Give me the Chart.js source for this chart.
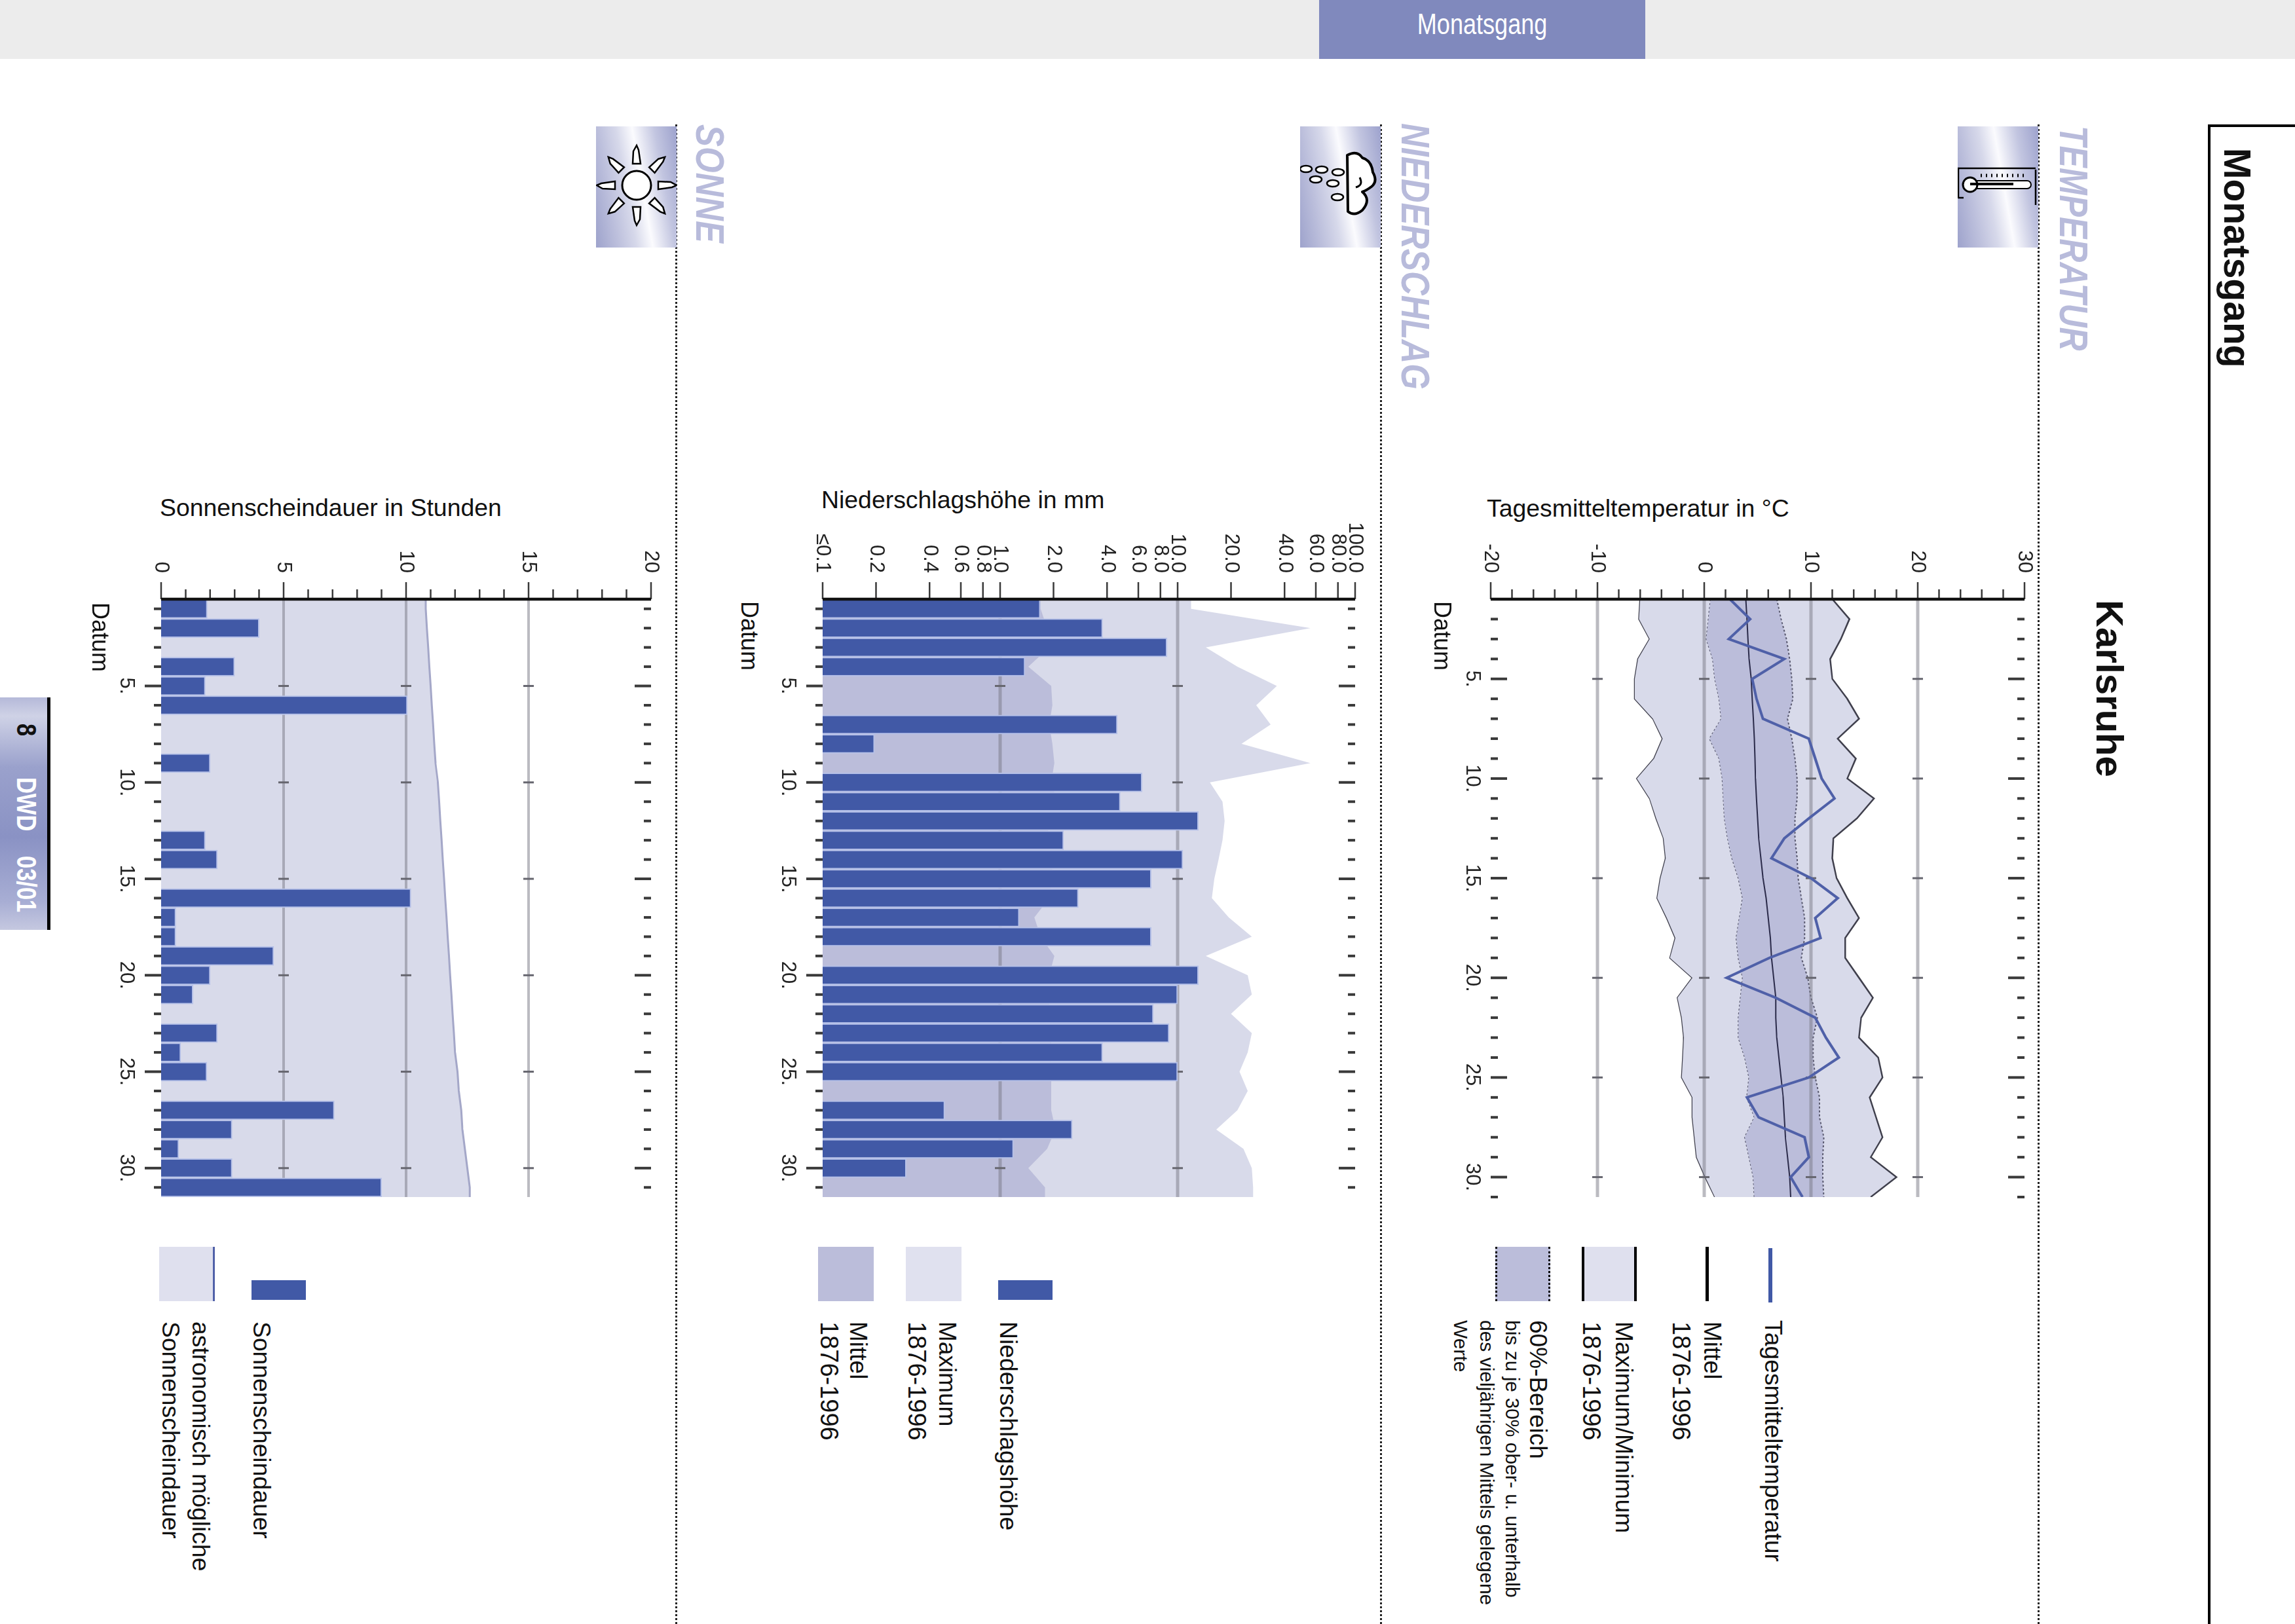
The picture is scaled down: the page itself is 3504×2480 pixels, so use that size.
<!DOCTYPE html>
<html lang="de">
<head>
<meta charset="utf-8">
<title>Monatsgang Karlsruhe</title>
<script src="https://cdn.jsdelivr.net/npm/chart.js@4.4.0/dist/chart.umd.min.js"></script>
<style>
  html, body { margin: 0; padding: 0; background: #fff; }
  body { position: relative; width: 3504px; height: 2480px; overflow: hidden; font-family: "Liberation Sans", Arial, sans-serif; color: #111; }
  /* top bar and chart titles stay upright, everything else sits on the page turned by 90deg */
  #topbar { position: absolute; left: 0; top: 0; width: 3504px; height: 90px; background: #ececec; }
  #tab { position: absolute; left: 2014px; top: 0; width: 498px; height: 90px; background: #8089bd; color: #fff; text-align: center; font-size: 44px; line-height: 74px; }
  #tab span { display: inline-block; transform: scaleX(.82); }
  .title { position: absolute; font-size: 37.4px; line-height: 1; white-space: nowrap; }
  #page { position: absolute; left: 0; top: 0; width: 2480px; height: 3504px; transform-origin: 0 0; transform: translateX(3504px) rotate(90deg); }
  #page canvas { position: absolute; }
  .t { position: absolute; white-space: nowrap; line-height: 1; }
  .head { font-weight: bold; font-style: italic; color: #b8bbdb; transform: scaleX(.82); transform-origin: 0 50%; }
  .foot { font-weight: bold; transform: scaleX(.82); transform-origin: 0 50%; color: #fff; }
  .sep { position: absolute; left: 190px; width: 2290px; border-top: 3px dotted #222; }
  .icon { position: absolute; left: 193px; width: 185px; height: 123px;
          background: linear-gradient(170deg, #9da2cd 0%, #c2c5e0 22%, #fbfbfe 44%, #d6d8ea 60%, #bcbfdc 78%, #9ea3cc 100%); }
  .icon svg { display: block; }
  .sw { position: absolute; left: 1904px; width: 83px; }
  #footer { position: absolute; left: 1065px; top: 3432px; width: 355px; height: 72px; border-top: 5px solid #000; margin-top: -5px;
            background: linear-gradient(90deg, #b5b9d9, #cfd2e6 8%, #9aa1cc 30%, #8a92c4 60%, #a8aed4 88%, #c5c8e0); }
</style>
</head>
<body>
<div id="topbar"></div>
<div id="tab"><span>Monatsgang</span></div>
<div class="title" style="left:2270px;top:758px">Tagesmitteltemperatur in °C</div>
<div class="title" style="left:1254px;top:745px">Niederschlagshöhe in mm</div>
<div class="title" style="left:244px;top:757px">Sonnenscheindauer in Stunden</div>

<div id="page">
  <div style="position:absolute;left:190px;top:0;width:2290px;height:129px;border-left:4px solid #000;border-bottom:4px solid #000"></div>
  <div class="sep" style="top:390px"></div>
  <div class="sep" style="top:1394px"></div>
  <div class="sep" style="top:2470px"></div>

  <div class="icon" style="top:392px">
    <svg width="185" height="123" viewBox="0 0 185 123">
      <path d="M64 4V122H68M68 122H110M109 122V114M66 4H120" fill="none" stroke="#000" stroke-width="2.5"/>
      <rect x="83" y="11" width="12" height="90" rx="6" fill="#fff" stroke="#000" stroke-width="2"/>
      <circle cx="89" cy="104" r="11" fill="#fff" stroke="#000" stroke-width="3"/>
      <path d="M88 38V104" stroke="#000" stroke-width="4"/>
      <path d="M75 22v2M75 30v2M75 38v2M75 46v2M75 54v2M75 62v2M75 70v2M75 78v2M75 86v2" stroke="#000" stroke-width="5"/>
    </svg>
  </div>
  <div class="icon" style="top:1396px">
    <svg width="185" height="123" viewBox="0 0 185 123">
      <path d="M44 51Q36 36 48 28Q52 14 70 12Q84 4 92 14Q98 22 100 28Q112 14 128 28Q138 40 130 50Z" fill="#fff" stroke="#000" stroke-width="4" stroke-linejoin="round"/>
      <path d="M78 32Q90 26 93 38" fill="none" stroke="#000" stroke-width="3"/>
      <g fill="#fff" stroke="#000" stroke-width="2.5">
        <ellipse cx="65" cy="114" rx="5" ry="9"/><ellipse cx="66" cy="90" rx="5" ry="9"/><ellipse cx="70" cy="65" rx="5" ry="9"/>
        <ellipse cx="81" cy="99" rx="5" ry="9"/><ellipse cx="87" cy="73" rx="5" ry="9"/><ellipse cx="108" cy="66" rx="5" ry="9"/>
      </g>
    </svg>
  </div>
  <div class="icon" style="top:2471px">
    <svg width="185" height="123" viewBox="0 0 185 123">
      <defs><path id="ray" d="M84 31L96 31L93 10L90 3L85 12Z" fill="#fff" stroke="#000" stroke-width="2.5"/></defs>
      <g transform="translate(0 -3)">
        <use href="#ray"/><use href="#ray" transform="rotate(45 90 64)"/><use href="#ray" transform="rotate(90 90 64)"/><use href="#ray" transform="rotate(135 90 64)"/>
        <use href="#ray" transform="rotate(180 90 64)"/><use href="#ray" transform="rotate(225 90 64)"/><use href="#ray" transform="rotate(270 90 64)"/><use href="#ray" transform="rotate(315 90 64)"/>
        <circle cx="90" cy="64" r="22" fill="#fff" stroke="#000" stroke-width="3"/>
      </g>
    </svg>
  </div>

  <canvas id="tempChart" width="1083" height="915" style="left:775px;top:373px"></canvas>
  <canvas id="rainChart" width="1083" height="928" style="left:775px;top:1395px"></canvas>
  <canvas id="sunChart" width="1083" height="863" style="left:775px;top:2470px"></canvas>

  <!-- Legende Temperatur -->
  <div class="sw" style="top:798px;left:1906px;height:6px;background:#4159a6"></div>
  <div class="sw" style="top:895px;height:5px;background:#000"></div>
  <div class="sw" style="top:1005px;height:84px;background:#dfe0ee;border-top:4px solid #000;border-bottom:4px solid #000;box-sizing:border-box"></div>
  <div class="sw" style="top:1137px;height:84px;background:#bbbdda;border-top:3px dotted #000;border-bottom:3px dotted #000;box-sizing:border-box"></div>
  <!-- Legende Niederschlag -->
  <div class="sw" style="top:1897px;left:1955px;width:30px;height:83px;background:#4159a6"></div>
  <div class="sw" style="top:2036px;height:85px;background:#e0e1ef"></div>
  <div class="sw" style="top:2170px;height:85px;background:#bbbdda"></div>
  <!-- Legende Sonne -->
  <div class="sw" style="top:3037px;left:1955px;width:30px;height:83px;background:#4159a6"></div>
  <div class="sw" style="top:3176px;height:85px;background:#dfe0ee;border-top:3px solid #5060a8;box-sizing:border-box"></div>

  <div id="footer"></div>
</div>

<script>
// ------------------------------------------------------------ Daten
const days = [1,2,3,4,5,6,7,8,9,10,11,12,13,14,15,16,17,18,19,20,21,22,23,24,25,26,27,28,29,30,31];
const dayLabels = [5,10,15,20,25,30];

// Temperatur in °C
const tempTicks = [-20,-10,0,10,20,30];
const tempMinorTicks = [-18,-16,-14,-12,-8,-6,-4,-2,2,4,6,8,12,14,16,18,22,24,26,28];
const tempGrid = [-10,0,10,20];
const tempDay = [2.4,4.3,2.3,7.5,4.5,4.9,5.5,9.8,10.4,11.0,12.2,9.8,7.5,6.3,10.0,12.5,10.4,10.9,6.1,2.1,6.7,10.4,11.4,12.6,9.8,4.0,5.1,9.4,9.8,8.1,9.2];
const tempMean = [3.9,4.0,4.1,4.2,4.4,4.5,4.6,4.7,4.75,4.8,4.9,5.0,5.1,5.3,5.5,5.8,6.0,6.2,6.3,6.5,6.7,6.7,6.8,7.0,7.2,7.4,7.5,7.6,7.8,8.0,8.1];
const tempMax = [12.0,13.6,12.8,11.8,12.0,13.4,14.5,12.5,14.2,13.4,15.9,14.3,12.1,12.0,12.4,13.4,14.5,13.2,13.2,14.5,15.8,14.7,14.5,16.3,16.7,15.5,16.1,16.7,15.6,18.0,15.6];
const tempMin = [-6.0,-6.1,-5.1,-6.2,-6.5,-6.5,-4.8,-3.9,-4.7,-6.3,-5.1,-4.5,-3.8,-3.6,-4.1,-4.4,-3.5,-2.7,-3.2,-1.1,-2.5,-2.1,-1.9,-2.0,-2.1,-1.1,-1.1,-0.9,-0.7,0.1,1.0];
const tempUpper60 = [6.8,7.2,7.7,8.0,8.2,8.3,7.8,8.2,8.5,8.7,8.7,8.5,8.5,8.7,8.8,9.1,9.4,9.4,9.1,9.7,10.0,10.6,10.2,10.2,10.4,10.8,10.8,11.2,11.1,11.1,11.2];
const tempLower60 = [0.6,0.4,0.2,0.8,1.0,1.4,1.6,0.5,1.4,1.7,1.8,1.9,2.2,2.6,3.2,3.6,3.3,3.0,3.2,3.6,3.4,3.2,3.2,3.8,4.2,4.0,4.7,3.8,4.2,4.6,4.7];

// Niederschlag in mm (log. Achse)
const rainTicks = [0.1,0.2,0.4,0.6,0.8,1,2,4,6,8,10,20,40,60,80,100];
const rainGrid = [1,10];
const rainDay = [1.68,3.78,8.7,1.38,null,null,4.57,0.196,null,6.3,4.75,13.1,2.28,10.7,7.1,2.76,1.28,7.1,null,13.1,10,7.3,8.95,3.78,10,null,0.487,2.55,1.19,0.296,null];
const rainMean = [1.69,1.84,1.89,1.44,1.94,1.97,1.89,1.97,2.02,1.94,2.1,1.94,1.79,2.0,1.94,1.89,1.56,1.69,2.02,1.89,1.89,1.89,1.94,1.94,1.94,1.94,1.94,2.05,1.84,1.44,1.79];
const rainMax = [11.9,56,14.4,21.7,36.2,27.7,33.4,22.9,56,15.2,17.9,18.4,17.9,17.0,16.1,15.6,19.4,26.2,14.4,24.8,26.2,20.0,26.2,24.8,22.3,24.8,21.7,16.5,23.5,26.2,26.6];

// Sonne in Stunden
const sunTicks = [0,5,10,15,20];
const sunMinorTicks = [1,2,3,4,6,7,8,9,11,12,13,14,16,17,18,19];
const sunGrid = [5,10,15];
const sunDay = [1.88,4.0,null,3.0,1.8,10.05,null,null,2.0,null,null,null,1.8,2.3,null,10.2,0.6,0.6,4.6,2.0,1.3,null,2.3,0.8,1.87,null,7.07,2.9,0.72,2.9,9.0];
const sunAstro = [10.8,10.85,10.9,10.95,11.0,11.05,11.1,11.15,11.2,11.3,11.35,11.4,11.45,11.5,11.55,11.6,11.65,11.7,11.75,11.8,11.85,11.9,11.95,12.0,12.1,12.15,12.25,12.3,12.4,12.5,12.6];

// ------------------------------------------------------------ Farben
const BLUE = '#4159a6';
const BAR_EDGE = '#b6c1e8';
const BAND_LIGHT = '#d8daea';
const BAND_DARK = '#bbbdda';

Chart.defaults.font.family = '"Liberation Sans", Arial, sans-serif';
Chart.defaults.color = '#222';
Chart.defaults.animation = false;

const points = vals => days.map((d, i) => ({ x: d, y: vals[i] }));
// Flaechen laufen bis an den Rand des letzten Tages
const withEnds = vals => [{ x: 0.5, y: vals[0] }, ...points(vals), { x: 31.5, y: vals[30] }];

// Achsenstriche und Gitter: Chart.js kennt nur eine Strichlaenge je Achse
function marks({ minor = [], major, grid, gridBefore, gridWidth = 5, outside }) {
  return {
    id: 'marks',
    beforeDatasetDraw(chart, args) {
      if (args.index !== gridBefore) return;
      const { ctx, chartArea: a, scales: { x, y } } = chart;
      ctx.save();
      ctx.strokeStyle = 'rgba(120,120,132,.5)';
      ctx.lineWidth = gridWidth;
      ctx.beginPath();
      grid.forEach(v => { ctx.moveTo(a.left, y.getPixelForValue(v)); ctx.lineTo(a.right, y.getPixelForValue(v)); });
      ctx.stroke();
      ctx.strokeStyle = '#66666f';
      ctx.lineWidth = 3;
      ctx.beginPath();
      grid.forEach(v => dayLabels.forEach(d => {
        const px = x.getPixelForValue(d), py = y.getPixelForValue(v);
        ctx.moveTo(px, py - 8);
        ctx.lineTo(px, py + 8);
      }));
      ctx.stroke();
      ctx.restore();
    },
    afterDraw(chart) {
      const { ctx, chartArea: a, scales: { x, y } } = chart;
      ctx.save();
      ctx.strokeStyle = '#3a3a3a';
      ctx.lineWidth = 2.5;
      ctx.beginPath();
      major.forEach(v => { ctx.moveTo(a.left, y.getPixelForValue(v)); ctx.lineTo(a.left - 26, y.getPixelForValue(v)); });
      minor.forEach(v => { ctx.moveTo(a.left, y.getPixelForValue(v)); ctx.lineTo(a.left - 15, y.getPixelForValue(v)); });
      ctx.stroke();
      ctx.lineWidth = 4;
      ctx.beginPath();
      days.forEach(d => {
        if (d <= x.min) return;
        const px = x.getPixelForValue(d), len = d % 5 === 0 ? 25 : 11;
        ctx.moveTo(px, a.top);
        ctx.lineTo(px, a.top + len);
        ctx.moveTo(px, a.bottom);
        ctx.lineTo(px, a.bottom + (outside ? len : -len));
      });
      ctx.stroke();
      ctx.strokeStyle = '#111';
      ctx.lineWidth = 4.5;
      ctx.beginPath();
      ctx.moveTo(a.left, a.top);
      ctx.lineTo(a.left, a.bottom);
      ctx.stroke();
      ctx.restore();
    }
  };
}

function scales({ xMin, xMax, xPad, xHeight, yType, yMin, yMax, yTicks, yLabel }) {
  return {
    x: {
      type: 'linear', min: xMin, max: xMax, offset: false,
      afterBuildTicks: s => { s.ticks = dayLabels.map(value => ({ value })); },
      afterFit: s => { s.height = xHeight; s.paddingLeft = 0; s.paddingRight = 0; },
      grid: { display: false, drawTicks: false }, border: { display: false },
      ticks: { autoSkip: false, maxRotation: 0, padding: xPad, font: { size: 31 }, callback: v => v + '.' }
    },
    y: {
      type: yType, min: yMin, max: yMax,
      afterBuildTicks: s => { s.ticks = yTicks.map(value => ({ value })); },
      afterFit: s => { s.width = 140; s.paddingTop = 0; s.paddingBottom = 0; },
      grid: { display: false, drawTicks: false }, border: { display: false },
      ticks: { autoSkip: false, padding: 40, font: { size: 31 }, callback: yLabel }
    }
  };
}

const baseOptions = {
  responsive: false,
  devicePixelRatio: 1,
  layout: { padding: { top: 40, right: 30, bottom: 0, left: 0 } },
  plugins: { legend: { display: false }, tooltip: { enabled: false } },
  elements: { point: { radius: 0 }, line: { tension: 0 } }
};

const barStyle = { backgroundColor: BLUE, borderColor: BAR_EDGE, borderWidth: 2, borderSkipped: 'start', barThickness: 29 };

// ------------------------------------------------------------ Temperatur
new Chart(document.getElementById('tempChart'), {
  type: 'line',
  data: {
    datasets: [
      { label: 'Tagesmitteltemperatur', data: points(tempDay), borderColor: '#4f60a8', borderWidth: 4 },
      { label: 'Mittel 1876-1996', data: points(tempMean), borderColor: '#2b2b4a', borderWidth: 2 },
      { label: '60%-Bereich oben', data: points(tempUpper60), borderColor: '#5a5a70', borderWidth: 2, borderDash: [3, 3], fill: { target: 3 }, backgroundColor: BAND_DARK },
      { label: '60%-Bereich unten', data: points(tempLower60), borderColor: '#5a5a70', borderWidth: 2, borderDash: [3, 3] },
      { label: 'Maximum', data: points(tempMax), borderColor: '#3f3f4c', borderWidth: 2.5, fill: { target: 5 }, backgroundColor: BAND_LIGHT },
      { label: 'Minimum', data: points(tempMin), borderColor: '#3f3f4c', borderWidth: 2.5 }
    ]
  },
  options: { ...baseOptions, scales: scales({ xMin: 1, xMax: 31, xPad: 10, xHeight: 60, yType: 'linear', yMin: -20, yMax: 30, yTicks: tempTicks, yLabel: v => v }) },
  plugins: [marks({ minor: tempMinorTicks, major: tempTicks, grid: tempGrid, gridBefore: 1, outside: false })]
});

// ------------------------------------------------------------ Niederschlag
new Chart(document.getElementById('rainChart'), {
  type: 'bar',
  data: {
    datasets: [
      { label: 'Niederschlagshöhe', data: points(rainDay), ...barStyle },
      { type: 'line', label: 'Mittel 1876-1996', data: withEnds(rainMean), borderWidth: 0, fill: 'start', backgroundColor: BAND_DARK },
      { type: 'line', label: 'Maximum 1876-1996', data: withEnds(rainMax), borderWidth: 0, fill: 'start', backgroundColor: BAND_LIGHT }
    ]
  },
  options: { ...baseOptions, scales: scales({ xMin: 0.5, xMax: 31.5, xPad: 35, xHeight: 75, yType: 'logarithmic', yMin: 0.1, yMax: 100, yTicks: rainTicks, yLabel: v => v === 0.1 ? '≤0.1' : v.toFixed(1) }) },
  plugins: [marks({ major: rainTicks, grid: rainGrid, gridBefore: 0, outside: true })]
});

// ------------------------------------------------------------ Sonne
new Chart(document.getElementById('sunChart'), {
  type: 'bar',
  data: {
    datasets: [
      { label: 'Sonnenscheindauer', data: points(sunDay), ...barStyle },
      { type: 'line', label: 'astronomisch mögliche Sonnenscheindauer', data: withEnds(sunAstro), borderColor: '#a4a7c8', borderWidth: 3, fill: 'start', backgroundColor: BAND_LIGHT }
    ]
  },
  options: { ...baseOptions, scales: scales({ xMin: 0.5, xMax: 31.5, xPad: 35, xHeight: 75, yType: 'linear', yMin: 0, yMax: 20, yTicks: sunTicks, yLabel: v => v }) },
  plugins: [marks({ minor: sunMinorTicks, major: sunTicks, grid: sunGrid, gridBefore: 0, gridWidth: 4, outside: true })]
});

// ------------------------------------------------------------ Texte auf der gedrehten Seite
// [Text, links, Grundlinie, Groesse, Klasse]
const pageTexts = [
  ['Monatsgang', 226, 108, 57, 'bold'],
  ['Karlsruhe', 916, 303, 58, 'bold'],
  ['TEMPERATUR', 192, 360, 61, 'head'],
  ['NIEDERSCHLAG', 188, 1364, 62, 'head'],
  ['SONNE', 190, 2441, 62, 'head'],
  ['Datum', 918, 1314, 36],
  ['Datum', 918, 2372, 36],
  ['Datum', 920, 3363, 36],
  ['Tagesmitteltemperatur', 2016, 810, 37.3],
  ['Mittel', 2018, 902, 37],
  ['1876-1996', 2018, 950, 38],
  ['Maximum/Minimum', 2018, 1038, 37.3],
  ['1876-1996', 2018, 1087, 38],
  ['60%-Bereich', 2016, 1168, 37],
  ['bis zu je 30% ober- u. unterhalb', 2016, 1205, 30],
  ['des vieljährigen Mittels gelegene', 2016, 1244, 30],
  ['Werte', 2016, 1284, 30],
  ['Niederschlagshöhe', 2018, 1978, 37.3],
  ['Maximum', 2018, 2070, 37],
  ['1876-1996', 2018, 2117, 38],
  ['Mittel', 2018, 2206, 37],
  ['1876-1996', 2018, 2251, 38],
  ['Sonnenscheindauer', 2018, 3118, 37.3],
  ['astronomisch mögliche', 2018, 3211, 37.3],
  ['Sonnenscheindauer', 2018, 3257, 37.3],
  ['8', 1105, 3479, 42, 'foot dark'],
  ['DWD', 1187, 3479, 42, 'foot'],
  ['03/01', 1307, 3479, 42, 'foot']
];

const page = document.getElementById('page');
pageTexts.forEach(([text, left, base, size, kind = '']) => {
  const el = document.createElement('div');
  el.className = 't ' + kind;
  el.textContent = text;
  el.style.cssText = `left:${left}px;top:${base - 0.8465 * size}px;font-size:${size}px;`;
  if (kind === 'bold') el.style.fontWeight = 'bold';
  if (kind === 'foot dark') el.style.color = '#111';
  page.appendChild(el);
});
</script>
</body>
</html>
